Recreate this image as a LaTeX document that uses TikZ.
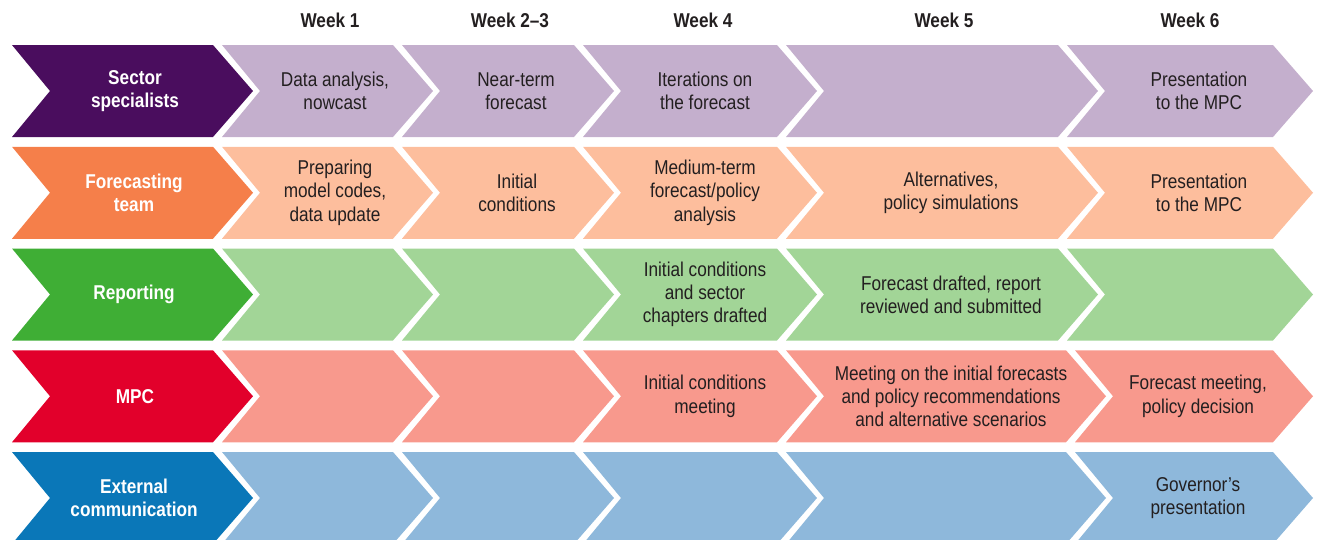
\documentclass[tikz,border=0pt]{standalone}
\usepackage{fontspec}
\setmainfont{Liberation Sans}[FakeStretch=0.86]

\definecolor{ssdark}{HTML}{4A0D5E}
\definecolor{sslight}{HTML}{C4AFCD}
\definecolor{ftdark}{HTML}{F57F4A}
\definecolor{ftlight}{HTML}{FDBE9D}
\definecolor{rpdark}{HTML}{3FAE35}
\definecolor{rplight}{HTML}{A2D597}
\definecolor{mpdark}{HTML}{E2002B}
\definecolor{mplight}{HTML}{F8998D}
\definecolor{ecdark}{HTML}{0A77B8}
\definecolor{eclight}{HTML}{8EB8DB}
\definecolor{bodytext}{HTML}{231F20}

% one chevron: #1 top y, #2 left x, #3 right x (before the point), #4 fill colour
\newcommand\lanechev[4]{%
  \fill[#4] (#2,#1) -- (#3,#1) -- (#3+40,#1+46) -- (#3,#1+92)
    -- (#2,#1+92) -- (#2+38,#1+46) -- cycle;}

\begin{document}
\begin{tikzpicture}[x=1pt,y=-1pt,
  head/.style={font=\fontsize{20}{23.3}\selectfont\bfseries, text=bodytext, inner sep=0pt},
  lanelabel/.style={font=\fontsize{20}{23.3}\selectfont\bfseries, text=white, align=center, inner sep=0pt},
  cell/.style={font=\fontsize{20}{23.3}\selectfont, text=bodytext, align=center, inner sep=0pt}]
\useasboundingbox (0,0) rectangle (1318,539);
\clip (0,0) rectangle (1318,539);

% column headers
\node[head] (w1) at (330,20) {Week 1};
\node[head] (w23) at (510,20) {Week 2–3};
\node[head] (w4) at (703,20) {Week 4};
\node[head] (w5) at (944,20) {Week 5};
\node[head] (w6) at (1190,20) {Week 6};

% lanes: top y, dark colour, light colour
\foreach \t/\dk/\lt in {45/ssdark/sslight, 146.75/ftdark/ftlight, 248.5/rpdark/rplight}{
  \lanechev{\t}{12}{213}{\dk}
  \lanechev{\t}{222}{393}{\lt}
  \lanechev{\t}{402}{574}{\lt}
  \lanechev{\t}{583}{777}{\lt}
  \lanechev{\t}{786}{1058}{\lt}
  \lanechev{\t}{1067}{1273}{\lt}
}
\foreach \t/\dk/\lt in {350.25/mpdark/mplight, 452/ecdark/eclight}{
  \lanechev{\t}{12}{213}{\dk}
  \lanechev{\t}{222}{393}{\lt}
  \lanechev{\t}{402}{574}{\lt}
  \lanechev{\t}{583}{777}{\lt}
  \lanechev{\t}{786}{1066}{\lt}
  \lanechev{\t}{1075}{1273}{\lt}
}

% lane labels
\node[lanelabel] (ss) at (135,91) {Sector\\specialists};
\node[lanelabel] (ft) at (134,192.75) {Forecasting\\team};
\node[lanelabel] (rp) at (134,294.5) {Reporting};
\node[lanelabel] (mp) at (135,396.25) {MPC};
\node[lanelabel] (ec) at (134,498) {External\\communication};

% sector specialists
\node[cell] (ss1) at (335,91) {Data analysis,\\nowcast};
\node[cell] (ss2) at (516,91) {Near-term\\forecast};
\node[cell] (ss3) at (705,91) {Iterations on\\the forecast};
\node[cell] (ss5) at (1199,91) {Presentation\\to the MPC};

% forecasting team
\node[cell] (ft1) at (335,192.75) {Preparing\\model codes,\\data update};
\node[cell] (ft2) at (517,192.75) {Initial\\conditions};
\node[cell] (ft3) at (705,192.75) {Medium-term\\forecast/policy\\analysis};
\node[cell] (ft4) at (951,192.75) {Alternatives,\\policy simulations};
\node[cell] (ft5) at (1199,192.75) {Presentation\\to the MPC};

% reporting
\node[cell] (rp3) at (705,294.5) {Initial conditions\\and sector\\chapters drafted};
\node[cell] (rp4) at (951,294.5) {Forecast drafted, report\\reviewed and submitted};

% MPC
\node[cell] (mp3) at (705,396.25) {Initial conditions\\meeting};
\node[cell] (mp4) at (951,396.25) {Meeting on the initial forecasts\\and policy recommendations\\and alternative scenarios};
\node[cell] (mp5) at (1198,396.25) {Forecast meeting,\\policy decision};

% external communication
\node[cell] (ec5) at (1198,498) {Governor’s\\presentation};
\end{tikzpicture}
\end{document}
